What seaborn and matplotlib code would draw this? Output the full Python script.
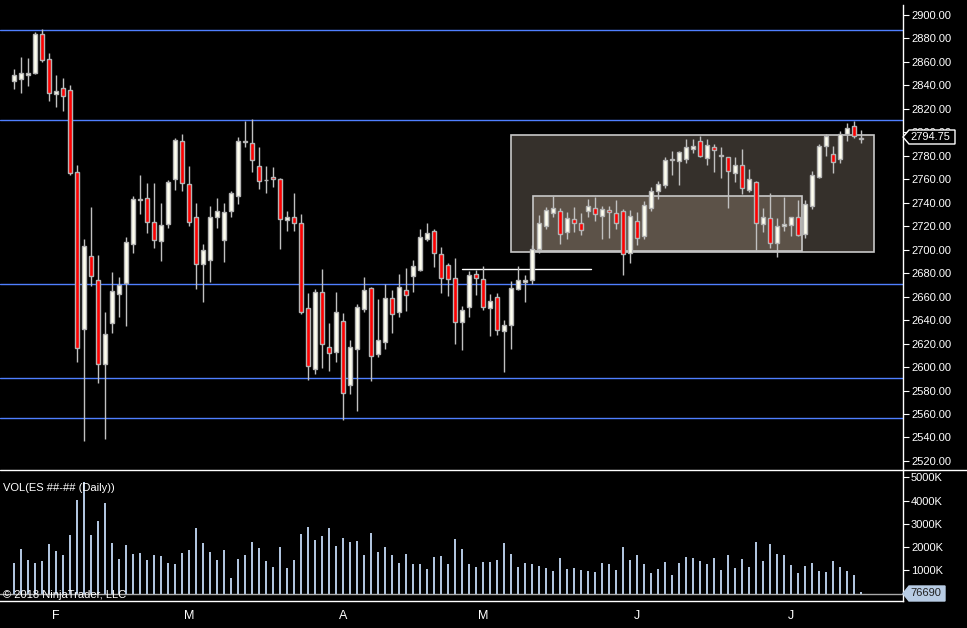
import numpy as np
import pandas as pd
import matplotlib
matplotlib.use("Agg")
import matplotlib.pyplot as plt
from matplotlib.patches import Rectangle, Polygon
from matplotlib.lines import Line2D
import seaborn as sns

# === daily ES bars ===
opens = [2844.0, 2845.7, 2848.5, 2850.8, 2883.6, 2862.3, 2832.4, 2837.5, 2835.8, 2766.0,
         2632.7, 2694.4, 2674.0, 2602.4, 2637.3, 2662.0, 2671.4, 2704.6, 2742.5, 2743.8,
         2723.4, 2707.2, 2721.7, 2760.5, 2792.4, 2755.8, 2727.6, 2687.6, 2691.5, 2727.6,
         2708.6, 2732.8, 2746.0, 2792.0, 2790.7, 2771.1, 2759.0, 2761.7, 2760.0, 2725.1,
         2727.6, 2722.5, 2650.1, 2598.6, 2663.7, 2616.9, 2613.1, 2639.0, 2585.0, 2615.7,
         2649.8, 2667.1, 2611.4, 2621.7, 2658.6, 2646.7, 2665.4, 2677.4, 2683.0, 2708.9,
         2715.7, 2696.1, 2686.7, 2675.7, 2638.7, 2651.5, 2679.1, 2674.8, 2650.1, 2659.5,
         2630.5, 2635.6, 2666.3, 2672.3, 2674.0, 2700.4, 2720.0, 2731.0, 2732.8, 2714.9,
         2725.9, 2722.5, 2732.8, 2735.3, 2728.5, 2733.6, 2731.0, 2732.8, 2697.0, 2724.2,
         2711.5, 2735.3, 2749.8, 2754.9, 2777.6, 2775.4, 2777.1, 2785.6, 2792.4, 2777.9,
         2787.3, 2780.0, 2778.8, 2765.1, 2771.9, 2750.6, 2757.5, 2721.7, 2726.8, 2705.5,
         2720.0, 2720.8, 2727.6, 2713.2, 2737.0, 2762.2, 2788.1, 2781.3, 2777.1, 2798.4,
         2805.2, 2795.5]
highs = [2854.0, 2864.2, 2863.4, 2885.5, 2888.1, 2867.6, 2848.9, 2846.3, 2840.1, 2772.2,
         2709.2, 2736.4, 2695.5, 2646.7, 2680.8, 2676.8, 2710.9, 2745.8, 2763.7, 2756.9,
         2756.9, 2739.8, 2759.4, 2794.9, 2798.6, 2771.3, 2739.8, 2704.9, 2737.3, 2744.1,
         2739.8, 2750.0, 2796.1, 2809.9, 2811.4, 2787.5, 2771.3, 2770.5, 2761.1, 2732.8,
         2748.1, 2730.2, 2663.4, 2666.6, 2683.6, 2637.6, 2664.0, 2646.1, 2622.8, 2653.8,
         2676.8, 2668.3, 2658.0, 2670.6, 2665.7, 2679.3, 2684.4, 2691.3, 2717.7, 2722.8,
         2717.7, 2702.1, 2688.7, 2693.0, 2652.1, 2681.6, 2682.7, 2686.1, 2662.3, 2662.9,
         2639.9, 2673.4, 2686.1, 2678.5, 2704.0, 2729.6, 2736.2, 2745.5, 2735.3, 2732.2,
         2736.2, 2731.0, 2743.0, 2744.7, 2737.0, 2737.0, 2742.1, 2734.5, 2733.6, 2731.9,
         2741.5, 2753.2, 2758.3, 2779.0, 2783.9, 2784.1, 2794.4, 2794.4, 2796.9, 2794.4,
         2789.8, 2787.3, 2779.0, 2778.8, 2785.6, 2768.5, 2758.3, 2735.3, 2748.3, 2726.8,
         2744.7, 2728.2, 2742.4, 2742.4, 2766.8, 2789.8, 2798.4, 2788.1, 2800.9, 2807.7,
         2809.4, 2801.8]
lows = [2837.0, 2833.8, 2839.8, 2849.7, 2860.0, 2827.0, 2821.6, 2818.5, 2763.9, 2604.6,
        2537.3, 2669.4, 2586.2, 2539.0, 2628.8, 2642.9, 2635.3, 2697.5, 2730.7, 2714.5,
        2701.7, 2690.7, 2718.8, 2751.2, 2750.3, 2720.5, 2666.8, 2655.7, 2672.8, 2718.8,
        2689.8, 2728.1, 2739.2, 2787.5, 2766.5, 2752.0, 2748.6, 2753.5, 2700.9, 2716.2,
        2716.2, 2645.5, 2589.0, 2594.4, 2599.5, 2596.9, 2604.6, 2554.9, 2577.1, 2562.9,
        2647.2, 2588.2, 2609.0, 2615.7, 2629.3, 2642.9, 2648.1, 2664.3, 2682.0, 2707.7,
        2685.5, 2663.4, 2660.8, 2619.9, 2614.6, 2642.9, 2661.7, 2648.7, 2626.8, 2627.6,
        2595.6, 2615.7, 2665.4, 2655.7, 2670.8, 2697.0, 2718.0, 2728.1, 2704.6, 2708.9,
        2714.9, 2712.3, 2727.6, 2724.7, 2708.9, 2709.7, 2717.4, 2678.7, 2689.0, 2703.8,
        2708.9, 2732.8, 2743.0, 2752.3, 2763.9, 2755.4, 2774.2, 2782.2, 2778.8, 2772.5,
        2766.0, 2761.4, 2735.8, 2757.5, 2747.2, 2749.0, 2700.0, 2714.9, 2701.2, 2693.6,
        2716.0, 2712.0, 2711.7, 2709.7, 2735.0, 2761.4, 2780.1, 2765.6, 2773.6, 2792.9,
        2794.9, 2790.7]
closes = [2849.0, 2850.6, 2850.5, 2883.8, 2861.9, 2833.3, 2835.0, 2831.2, 2765.6, 2616.5,
          2702.9, 2677.4, 2602.4, 2628.0, 2664.6, 2670.2, 2706.3, 2743.0, 2743.5, 2723.4,
          2708.1, 2720.8, 2757.5, 2793.2, 2756.6, 2723.4, 2687.6, 2699.5, 2727.6, 2732.8,
          2731.9, 2748.1, 2792.4, 2793.0, 2776.7, 2758.3, 2759.4, 2760.0, 2726.4, 2727.6,
          2722.5, 2647.2, 2601.2, 2663.7, 2619.4, 2611.8, 2646.7, 2578.2, 2616.9, 2651.0,
          2665.4, 2609.7, 2622.8, 2658.6, 2645.0, 2668.0, 2661.2, 2685.9, 2710.9, 2714.0,
          2697.0, 2675.7, 2674.8, 2638.7, 2648.4, 2678.2, 2675.7, 2651.0, 2656.1, 2631.4,
          2635.6, 2667.1, 2674.0, 2674.0, 2700.4, 2722.5, 2733.6, 2735.3, 2713.2, 2726.8,
          2722.5, 2716.6, 2737.0, 2730.2, 2734.5, 2731.9, 2722.5, 2696.1, 2728.5, 2709.7,
          2737.9, 2749.8, 2755.8, 2776.2, 2776.2, 2783.0, 2787.3, 2788.4, 2779.6, 2789.0,
          2784.7, 2780.25, 2766.8, 2771.9, 2752.3, 2760.0, 2722.5, 2728.2, 2705.5, 2720.0,
          2721.7, 2727.6, 2712.3, 2738.7, 2763.4, 2788.1, 2796.7, 2774.5, 2798.4, 2803.5,
          2796.9, 2794.75]
volume_k = [1310, 1920, 1440, 1310, 1400, 2130, 1830, 1660, 2520, 4030,
            4810, 2520, 3130, 3900, 2180, 1490, 2090, 1700, 1750, 1440,
            1660, 1620, 1310, 1270, 1750, 1880, 2820, 2180, 1790, 1440,
            1880, 670, 1490, 1660, 2220, 1960, 1400, 1140, 2000, 1100,
            1440, 2560, 2870, 2310, 2480, 2820, 2050, 2390, 2220, 2260,
            1660, 2610, 1790, 2000, 1660, 1310, 1700, 1270, 1270, 1060,
            1570, 1620, 1270, 2350, 1920, 1270, 1140, 1360, 1360, 1440,
            2180, 1700, 1140, 1310, 1270, 1190, 1100, 970, 1530, 1060,
            1100, 1010, 970, 930, 1310, 1270, 1010, 2000, 1440, 1660,
            1270, 880, 1060, 1360, 800, 1310, 1570, 1530, 1400, 1270,
            1530, 1010, 1660, 1100, 1490, 1140, 2220, 1400, 2130, 1700,
            1660, 1230, 880, 1190, 1310, 970, 930, 1400, 1140, 970,
            800, 76.69]
month_pos = [6, 25, 47, 67, 89, 111]
month_labels = ["F", "M", "A", "M", "J", "J"]
price_ticks = list(range(2520, 2901, 20))
vol_ticks = [1000, 2000, 3000, 4000, 5000]
levels = [2887.0, 2810.25, 2670.5, 2590.5, 2556.5]
last_price = "2794.75"
last_volume = "76690"

W, H = 967, 628


def fx(px):
    return px / W


def fy(py):
    return 1 - py / H


sns.set_style("dark", {"axes.facecolor": "black", "figure.facecolor": "black",
                       "axes.edgecolor": "white", "axes.grid": False})
plt.rcParams["font.family"] = ["Liberation Sans", "DejaVu Sans"]
plt.rcParams["font.size"] = 8

df = pd.DataFrame({"i": np.arange(len(opens)), "open": opens, "high": highs,
                   "low": lows, "close": closes, "vol": volume_k})

fig = plt.figure(figsize=(W / 100, H / 100), dpi=100)
ax = fig.add_axes([0, fy(470), fx(903), (470 - 5) / H])
axv = fig.add_axes([0, fy(601), fx(903), (601 - 470) / H])

# === price panel ===
ax.set_facecolor("black")
ax.set_xlim(-2, 127)
ax.set_ylim(2512.3, 2908.5)

# levels
for lv in levels:
    ax.axhline(lv, color="#4f7fff", lw=1, zorder=1)

# drawn rectangles and line
ax.add_patch(Rectangle((71.0, 2697.8), 122.9 - 71.0, 2797.5 - 2697.8,
                       facecolor="#35302b", edgecolor="#c8c8c8", lw=1.2, zorder=2))
ax.add_patch(Rectangle((74.2, 2699.0), 112.6 - 74.2, 2745.5 - 2699.0,
                       facecolor="#5c5248", edgecolor="#c8c8c8", lw=1.2, zorder=2))
ax.plot([64.0, 82.4], [2683.6, 2683.6], color="white", lw=1, zorder=2)

# candles
ax.vlines(df["i"], df["low"], df["high"], color="#c0c0c0", lw=1, zorder=3)
body_lo = np.minimum(df["open"], df["close"])
body_h = np.maximum((df["close"] - df["open"]).abs(), 0.4)
up = df["close"] >= df["open"]
ax.bar(df["i"][up], body_h[up], bottom=body_lo[up], width=0.62,
       color="#fffff0", edgecolor="#b4b4b4", lw=1, zorder=4)
ax.bar(df["i"][~up], body_h[~up], bottom=body_lo[~up], width=0.62,
       color="#ff0000", edgecolor="#b4b4b4", lw=1, zorder=4)

ax.yaxis.tick_right()
ax.set_yticks(price_ticks)
ax.set_yticklabels([f"{t:.2f}" for t in price_ticks])
ax.tick_params(axis="y", colors="white", length=4.3, width=0.8, pad=1.5,
               labelsize=8, labelcolor="white")
ax.set_xticks([])
for s in ["top", "left", "bottom"]:
    ax.spines[s].set_visible(False)
ax.spines["right"].set_color("white")
ax.spines["right"].set_linewidth(1)

# === volume panel ===
axv.set_facecolor("black")
sns.barplot(data=df, x="i", y="vol", native_scale=True, width=0.3,
            color="#b0c4de", saturation=1, linewidth=0, edgecolor="#b0c4de",
            ax=axv, zorder=3)
axv.axhline(0, color="#a8a8a8", lw=1, zorder=2)
axv.set_xlim(-2, 127)
axv.set_ylim(-323, 5323)
axv.set_xlabel("")
axv.set_ylabel("")
axv.yaxis.tick_right()
axv.set_yticks(vol_ticks)
axv.set_yticklabels([f"{t}K" for t in vol_ticks])
axv.tick_params(axis="y", colors="white", length=4.3, width=0.8, pad=1.5,
                labelsize=8, labelcolor="white")
axv.set_xticks(month_pos)
axv.set_xticklabels(month_labels)
axv.tick_params(axis="x", colors="white", direction="out", length=4.3, width=0.8,
                pad=2, labelsize=9, labelcolor="white")
for s in ["top", "left"]:
    axv.spines[s].set_visible(False)
for s in ["right", "bottom"]:
    axv.spines[s].set_color("white")
    axv.spines[s].set_linewidth(1)

axv.text(fx(3), fy(488), "VOL(ES ##-## (Daily))", transform=fig.transFigure,
         color="white", fontsize=8, va="center", ha="left")
axv.text(fx(3), fy(595), "\u00a9 2018 NinjaTrader, LLC", transform=fig.transFigure,
         color="white", fontsize=8, va="center", ha="left", zorder=5)

# separator between panels
fig.add_artist(Line2D([0, 1], [fy(470), fy(470)], color="white", lw=1,
                      transform=fig.transFigure))

# last price / last volume markers
pm = [(903, 137), (909, 130), (955, 130), (955, 144), (909, 144)]
fig.add_artist(Polygon([(fx(a), fy(b)) for a, b in pm], closed=True,
                       facecolor="black", edgecolor="white", lw=1,
                       transform=fig.transFigure, zorder=10))
fig.text(fx(910), fy(137.5), last_price, color="white", fontsize=8,
         va="center", ha="left", zorder=11)
vm = [(903, 593.5), (909, 586), (945, 586), (945, 601), (909, 601)]
fig.add_artist(Polygon([(fx(a), fy(b)) for a, b in vm], closed=True,
                       facecolor="#b8cce4", edgecolor="#b8cce4", lw=1,
                       transform=fig.transFigure, zorder=10))
fig.text(fx(910), fy(593.5), last_volume, color="#202020", fontsize=8,
         va="center", ha="left", zorder=11)

fig.savefig("out.png", dpi=100, facecolor="black")
